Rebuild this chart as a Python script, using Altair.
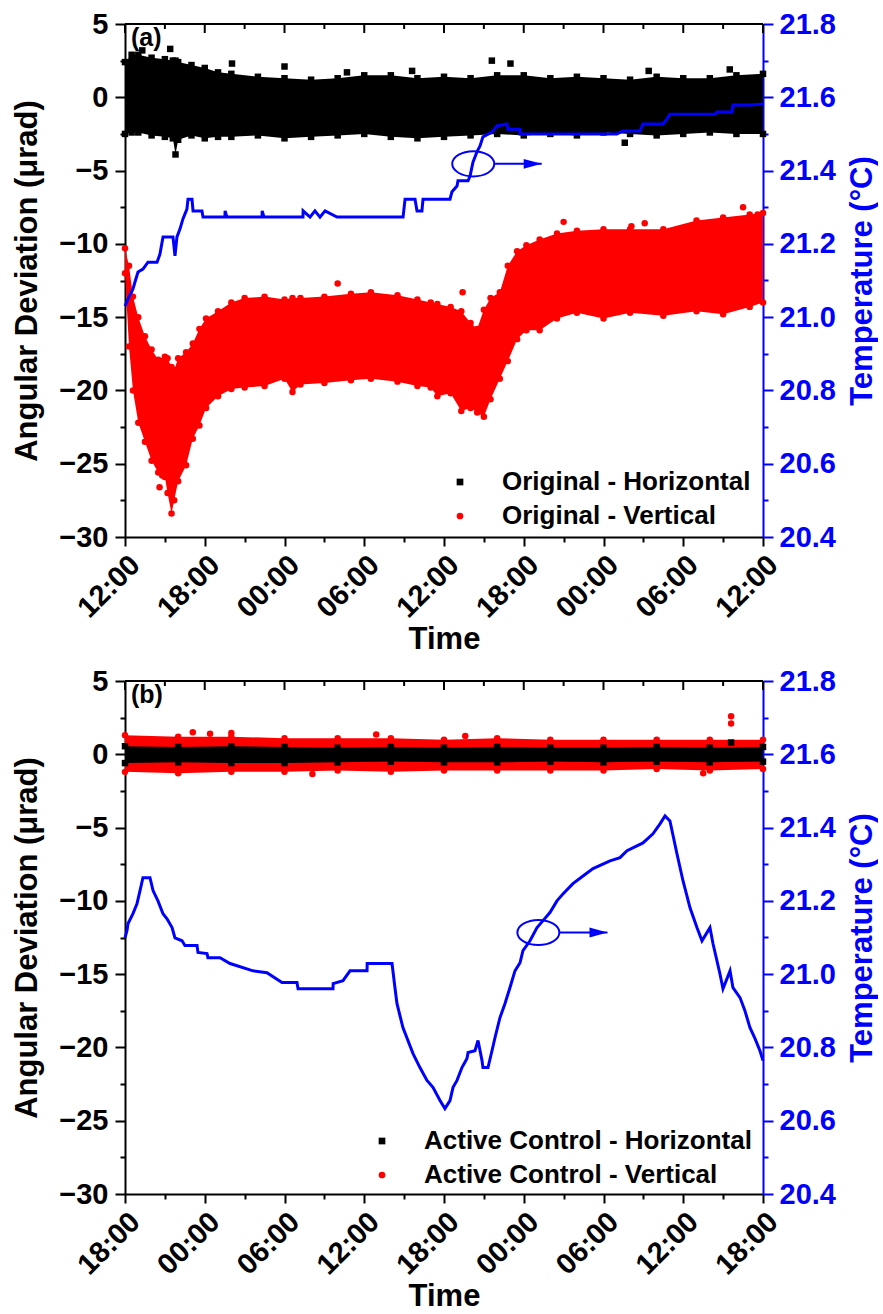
import json
import altair as alt
import pandas as pd

FONT = "Liberation Sans"
BLUE = "#0000ff"
RED = "#ff0000"
BLACK = "#000000"

# ------------------------------------------------------------------ panel (a)
a_time_labels = ["12:00", "18:00", "00:00", "06:00", "12:00", "18:00", "00:00", "06:00", "12:00"]
a_series = ["Original - Horizontal", "Original - Vertical"]

a_black_hours = [0, 0.5, 1, 2, 3, 3.6, 3.8, 4.0, 5, 6, 7, 8, 10, 12, 14, 16, 18, 20, 22, 24,
                 26, 28, 30, 32, 34, 36, 38, 40, 42, 44, 46, 48]
a_black_upper = [2.4, 2.9, 2.9, 2.7, 2.6, 2.5, 2.5, 2.4, 2.2, 2.0, 1.7, 1.6, 1.4, 1.3, 1.2, 1.3,
                 1.5, 1.5, 1.3, 1.4, 1.3, 1.5, 1.5, 1.3, 1.4, 1.3, 1.2, 1.4, 1.3, 1.3, 1.5, 1.6]
a_black_lower = [-2.5, -2.4, -2.4, -2.6, -2.7, -2.8, -3.9, -2.9, -2.6, -2.8, -2.7, -2.7, -2.6, -2.8,
                 -2.7, -2.6, -2.5, -2.7, -2.8, -2.7, -2.6, -2.5, -2.6, -2.5, -2.6, -2.4, -2.5, -2.6,
                 -2.5, -2.4, -2.5, -2.5]

a_red_hours = [0, 0.3, 0.6, 1.0, 1.5, 2.0, 2.5, 2.8, 3.0, 3.2, 3.5, 3.7, 4.0, 4.6, 5.1, 5.6, 6.1,
               7, 8, 9, 10.5, 12, 12.6, 13.2, 15, 17, 18.5, 20.5, 22, 23, 23.5, 24.5, 25.3, 26.0,
               26.5, 27.0, 27.5, 28.2, 28.8, 29.5, 30.2, 31.2, 32.5, 34, 36, 38, 40.5, 43, 45, 47, 48]
a_red_upper = [-10.3, -11.5, -13.6, -15.0, -16.3, -17.2, -17.9, -18.0, -17.7, -17.8, -18.4, -18.6,
               -17.8, -17.4, -16.8, -15.8, -15.1, -14.6, -14.0, -13.7, -13.6, -13.8, -13.7, -13.7,
               -13.6, -13.4, -13.3, -13.5, -13.8, -14.0, -14.1, -14.3, -14.6, -15.4, -15.8, -14.5,
               -13.7, -13.3, -11.5, -10.5, -10.1, -9.7, -9.3, -9.1, -9.0, -9.0, -9.0, -8.4, -8.2,
               -8.0, -7.9]
a_red_lower = [-12.0, -17.0, -20.0, -22.2, -23.5, -24.8, -25.6, -25.8, -25.9, -27.0, -28.4, -27.5,
               -26.2, -25.1, -23.3, -22.4, -21.2, -20.4, -19.9, -19.8, -19.7, -19.2, -20.1, -19.6,
               -19.5, -19.3, -19.2, -19.4, -19.7, -19.8, -20.4, -20.2, -21.4, -21.2, -21.5, -21.8,
               -20.6, -19.2, -18.0, -16.5, -15.9, -15.9, -15.1, -14.7, -15.1, -14.7, -14.9, -14.6,
               -14.8, -14.3, -14.0]

a_black_out_hours = [1.3, 3.4, 8.05, 12.0, 16.7, 21.6, 27.6, 29.0, 37.6, 39.4, 45.5]
a_black_out_vals = [3.2, 3.3, 2.3, 2.1, 1.7, 1.8, 2.5, 2.3, -3.1, 1.8, 1.9]
a_red_out_hours = [2.6, 16.0, 25.4, 33.0, 38.1, 39.1, 46.5, 47.6]
a_red_out_vals = [-26.6, -12.7, -13.3, -8.5, -8.8, -8.6, -7.5, -8.0]

a_temp_hours = [0, 0.23, 0.60, 0.75, 0.98, 1.35, 1.73, 2.41, 2.63, 2.86, 3.61, 3.76, 3.91, 4.14,
                4.36, 4.66, 4.74, 5.04, 5.12, 5.79, 5.87, 7.52, 7.53, 7.67, 10.31, 10.32, 10.46,
                13.39, 13.40, 13.92, 14.29, 14.67, 15.05, 15.95, 20.92, 21.07, 21.82, 21.97, 22.34,
                22.42, 24.45, 24.60, 24.98, 25.05, 25.81, 25.96, 26.18, 26.48, 26.71, 26.93, 27.61,
                27.99, 28.74, 28.81, 29.72, 29.73, 37.01, 37.47, 38.75, 38.97, 40.48, 40.78, 41.00,
                44.39, 44.54, 45.67, 45.74, 47.02, 48.0]
a_temp_vals = [21.030, 21.050, 21.077, 21.096, 21.123, 21.131, 21.150, 21.150, 21.172, 21.219,
               21.219, 21.167, 21.219, 21.241, 21.268, 21.295, 21.322, 21.322, 21.290, 21.290,
               21.273, 21.273, 21.290, 21.273, 21.273, 21.290, 21.273, 21.273, 21.290, 21.273,
               21.290, 21.273, 21.290, 21.273, 21.273, 21.322, 21.322, 21.290, 21.290, 21.322,
               21.322, 21.342, 21.358, 21.372, 21.372, 21.385, 21.423, 21.451, 21.467, 21.492,
               21.505, 21.522, 21.527, 21.513, 21.513, 21.500, 21.500, 21.508, 21.508, 21.527,
               21.527, 21.541, 21.554, 21.554, 21.560, 21.560, 21.579, 21.579, 21.582]

a_panel_label = "(a)"
a_label_pos = [0.45, 4.05]          # hours, µrad
a_ellipse_pos = [26.2, -4.54]       # hours, µrad
a_arrow_hours = [27.8, 31.35]

# ------------------------------------------------------------------ panel (b)
b_time_labels = ["18:00", "00:00", "06:00", "12:00", "18:00", "00:00", "06:00", "12:00", "18:00"]
b_series = ["Active Control - Horizontal", "Active Control - Vertical"]

b_band_hours = [0, 4, 8, 12, 16, 20, 24, 28, 32, 36, 40, 44, 48]
b_black_upper = [0.55, 0.5, 0.55, 0.5, 0.45, 0.5, 0.45, 0.5, 0.45, 0.45, 0.5, 0.45, 0.5]
b_black_lower = [-0.6, -0.55, -0.6, -0.6, -0.55, -0.5, -0.55, -0.55, -0.5, -0.55, -0.5, -0.55, -0.5]
b_red_upper = [1.3, 1.2, 1.2, 1.1, 1.1, 1.1, 1.0, 1.1, 1.0, 1.0, 1.0, 1.0, 1.0]
b_red_lower = [-1.2, -1.3, -1.2, -1.2, -1.1, -1.2, -1.1, -1.1, -1.1, -1.1, -1.0, -1.1, -1.0]

b_black_out_hours = [45.6]
b_black_out_vals = [0.8]
b_red_out_hours = [5.1, 6.4, 8.0, 18.9, 25.6, 45.6, 45.6, 14.1, 43.5]
b_red_out_vals = [1.5, 1.4, 1.45, 1.35, 1.25, 2.6, 2.1, -1.35, -1.3]

b_temp_hours = [0, 0.15, 0.23, 0.60, 0.90, 1.13, 1.35, 1.88, 2.11, 2.48, 2.86, 3.16, 3.54, 3.76,
                4.29, 4.51, 5.42, 5.49, 6.17, 6.24, 7.15, 7.90, 8.43, 9.63, 10.68, 11.81, 12.94,
                13.02, 15.65, 15.66, 16.40, 16.93, 18.21, 18.22, 20.09, 20.31, 20.46, 20.91, 21.67,
                22.19, 22.72, 23.17, 23.70, 24.07, 24.45, 24.68, 24.98, 25.35, 25.73, 25.81, 26.33,
                26.56, 26.86, 26.93, 27.31, 27.61, 27.84, 28.21, 28.59, 28.96, 29.34, 29.72, 29.94,
                30.47, 31.00, 31.45, 31.97, 32.50, 32.95, 33.70, 34.46, 35.21, 36.49, 37.24, 37.77,
                38.97, 39.72, 40.25, 40.63, 41.00, 41.53, 41.98, 42.51, 43.03, 43.41, 44.01, 44.24,
                44.76, 44.99, 45.52, 45.74, 46.27, 46.64, 47.02, 47.40, 47.77, 48.0]
b_temp_vals = [21.099, 21.119, 21.138, 21.165, 21.192, 21.228, 21.263, 21.263, 21.228, 21.200,
               21.165, 21.151, 21.127, 21.099, 21.091, 21.078, 21.078, 21.059, 21.056, 21.045,
               21.045, 21.029, 21.023, 21.009, 21.004, 20.977, 20.977, 20.960, 20.960, 20.974,
               20.982, 21.009, 21.009, 21.029, 21.029, 20.963, 20.920, 20.854, 20.783, 20.745,
               20.710, 20.691, 20.655, 20.633, 20.655, 20.691, 20.710, 20.745, 20.770, 20.786,
               20.791, 20.819, 20.764, 20.745, 20.745, 20.791, 20.827, 20.881, 20.920, 20.963,
               21.009, 21.031, 21.064, 21.091, 21.127, 21.146, 21.168, 21.200, 21.219, 21.247,
               21.268, 21.288, 21.309, 21.318, 21.337, 21.358, 21.383, 21.410, 21.432, 21.418,
               21.328, 21.255, 21.181, 21.127, 21.091, 21.127, 21.083, 21.001, 20.960, 21.009,
               20.963, 20.936, 20.900, 20.854, 20.824, 20.791, 20.764]

b_panel_label = "(b)"
b_label_pos = [0.45, 4.05]
b_ellipse_pos = [31.1, -12.16]
b_arrow_hours = [32.7, 36.3]

# ------------------------------------------------------------------ axes / scales
X_TICKS = list(range(0, 49, 3))
LEFT_TICKS = [-30 + 2.5 * i for i in range(15)]
RIGHT_TICKS = [round(20.4 + 0.1 * i, 1) for i in range(15)]
W, H = 638, 513

ELLIPSE = "M-1,0 A1,0.6 0 1,1 1,0 A1,0.6 0 1,1 -1,0 Z"
ARROW_HEAD = "M-2,-0.55 L0,0 L-2,0.55 Z"


def x_enc(field, labels):
    expr = "datum.value % 6 === 0 ? " + json.dumps(labels) + "[datum.value / 6] : ''"
    return alt.X(
        f"{field}:Q",
        scale=alt.Scale(domain=[0, 48], nice=False, zero=False),
        axis=alt.Axis(
            title="Time", values=X_TICKS, labelExpr=expr, labelAngle=315,
            labelAlign="right", labelBaseline="top", labelPadding=4,
            tickSize={"condition": {"test": "datum.value % 6 === 0", "value": 9}, "value": 5},
            labelOverlap=False, labelFlush=False, titlePadding=2,
        ),
    )


LEFT_AXIS = alt.Axis(
    title="Angular Deviation (μrad)", values=LEFT_TICKS,
    labelExpr="datum.value % 5 === 0 ? format(datum.value, 'd') : ''",
    tickSize={"condition": {"test": "datum.value % 5 === 0", "value": 10}, "value": 5},
    labelOverlap=False, labelFlush=False, labelPadding=7, titlePadding=15,
)

RIGHT_AXIS = alt.Axis(
    title="Temperature (°C)", orient="right", values=RIGHT_TICKS,
    labelExpr="round(datum.value * 10) % 2 === 0 ? format(datum.value, '.1f') : ''",
    tickSize={"condition": {"test": "round(datum.value * 10) % 2 === 0", "value": 10}, "value": 5},
    labelOverlap=False, labelFlush=False, labelPadding=6, titlePadding=12,
    titleAngle=270, titleBaseline="top",
    domainColor=BLUE, tickColor=BLUE, labelColor=BLUE, titleColor=BLUE,
)


def y_left(field):
    return alt.Y(f"{field}:Q", scale=alt.Scale(domain=[-30, 5], nice=False, zero=False), axis=LEFT_AXIS)


def panel(labels, series, black_hours, black_up, black_lo, red_hours, red_up, red_lo,
          black_out_h, black_out_v, red_out_h, red_out_v, temp_h, temp_v,
          plabel, plabel_pos, ell_pos, arrow_h, red_first, legend_xy):
    df_black = pd.DataFrame({"h": black_hours, "hi": black_up, "lo": black_lo})
    df_red = pd.DataFrame({"h": red_hours, "hi": red_up, "lo": red_lo})

    pts = []
    for hh, u, l in zip(red_hours, red_up, red_lo):
        pts.append({"h": hh, "v": u, "s": series[1]})
        pts.append({"h": hh, "v": l, "s": series[1]})
    for hh, v in zip(red_out_h, red_out_v):
        pts.append({"h": hh, "v": v, "s": series[1]})
    for hh, u, l in zip(black_hours, black_up, black_lo):
        pts.append({"h": hh, "v": u, "s": series[0]})
        pts.append({"h": hh, "v": l, "s": series[0]})
    for hh, v in zip(black_out_h, black_out_v):
        pts.append({"h": hh, "v": v, "s": series[0]})
    df_pts = pd.DataFrame(pts)

    black_area = alt.Chart(df_black).mark_area(color=BLACK, opacity=1).encode(
        x=x_enc("h", labels), y=y_left("hi"), y2=alt.Y2("lo:Q"))
    red_area = alt.Chart(df_red).mark_area(color=RED, opacity=1).encode(
        x=x_enc("h", labels), y=y_left("hi"), y2=alt.Y2("lo:Q"))

    legend = alt.Legend(title=None, orient="none", legendX=legend_xy[0], legendY=legend_xy[1],
                        direction="vertical", labelLimit=0)
    points = alt.Chart(df_pts).mark_point(filled=True, opacity=1, size=42).encode(
        x=x_enc("h", labels), y=y_left("v"),
        color=alt.Color("s:N", scale=alt.Scale(domain=series, range=[BLACK, RED]), legend=legend),
        shape=alt.Shape("s:N", scale=alt.Scale(domain=series, range=["square", "circle"]), legend=legend),
    )

    df_lab = pd.DataFrame({"h": [plabel_pos[0]], "v": [plabel_pos[1]], "t": [plabel]})
    label = alt.Chart(df_lab).mark_text(align="left", baseline="middle", font=FONT, fontSize=25,
                                        fontWeight="bold", color=BLACK).encode(
        x=x_enc("h", labels), y=y_left("v"), text="t:N")

    df_ell = pd.DataFrame({"h": [ell_pos[0]], "v": [ell_pos[1]]})
    ellipse = alt.Chart(df_ell).mark_point(shape=ELLIPSE, size=1764, filled=False, color=BLUE,
                                           strokeWidth=2, opacity=1).encode(
        x=x_enc("h", labels), y=y_left("v"))
    df_arr = pd.DataFrame({"h0": [arrow_h[0]], "h1": [arrow_h[1]], "v": [ell_pos[1]]})
    arrow = alt.Chart(df_arr).mark_rule(color=BLUE, strokeWidth=2).encode(
        x=x_enc("h0", labels), x2=alt.X2("h1:Q"), y=y_left("v"))
    head = alt.Chart(df_arr).mark_point(shape=ARROW_HEAD, size=324, filled=True, color=BLUE,
                                        opacity=1).encode(
        x=x_enc("h1", labels), y=y_left("v"))

    top_frame = alt.Chart(df_lab).mark_rule(color=BLACK, strokeWidth=2).encode(
        x=alt.value(0), x2=alt.value(W), y=alt.value(0))
    df_major = pd.DataFrame({"h": [t for t in X_TICKS if t % 6 == 0]})
    df_minor = pd.DataFrame({"h": [t for t in X_TICKS if t % 6 != 0]})
    top_major = alt.Chart(df_major).mark_rule(color=BLACK, strokeWidth=2).encode(
        x=x_enc("h", labels), y=alt.value(0), y2=alt.value(9))
    top_minor = alt.Chart(df_minor).mark_rule(color=BLACK, strokeWidth=2).encode(
        x=x_enc("h", labels), y=alt.value(0), y2=alt.value(5))

    areas = [red_area, black_area] if red_first else [black_area, red_area]
    left = alt.layer(*areas, points, label, ellipse, arrow, head, top_frame, top_major, top_minor)

    df_temp = pd.DataFrame({"h": temp_h, "T": temp_v})
    temp = alt.Chart(df_temp).mark_line(color=BLUE, strokeWidth=3).encode(
        x=x_enc("h", labels),
        y=alt.Y("T:Q", scale=alt.Scale(domain=[20.4, 21.8], nice=False, zero=False), axis=RIGHT_AXIS),
    )
    return alt.layer(left, temp).resolve_scale(y="independent").properties(width=W, height=H)


pa = panel(a_time_labels, a_series, a_black_hours, a_black_upper, a_black_lower,
           a_red_hours, a_red_upper, a_red_lower, a_black_out_hours, a_black_out_vals,
           a_red_out_hours, a_red_out_vals, a_temp_hours, a_temp_vals,
           a_panel_label, a_label_pos, a_ellipse_pos, a_arrow_hours, False, [322, 445])
pb = panel(b_time_labels, b_series, b_band_hours, b_black_upper, b_black_lower,
           b_band_hours, b_red_upper, b_red_lower, b_black_out_hours, b_black_out_vals,
           b_red_out_hours, b_red_out_vals, b_temp_hours, b_temp_vals,
           b_panel_label, b_label_pos, b_ellipse_pos, b_arrow_hours, True, [244, 447])

chart = (
    alt.vconcat(pa, pb, spacing=12)
    .resolve_scale(color="independent", shape="independent")
    .resolve_legend(color="independent", shape="independent")
    .properties(padding={"left": 11, "top": 10, "right": 0, "bottom": 0})
    .configure_axis(labelFont=FONT, titleFont=FONT, labelFontSize=29, titleFontSize=31,
                    labelFontWeight="bold", titleFontWeight="bold", domainWidth=2, tickWidth=2,
                    domainColor=BLACK, tickColor=BLACK, labelColor=BLACK, titleColor=BLACK,
                    grid=False)
    .configure_legend(labelFont=FONT, labelFontSize=26, labelFontWeight="bold", labelColor=BLACK,
                      symbolSize=45, symbolStrokeWidth=0, padding=0, rowPadding=8, labelOffset=29,
                      labelLimit=0)
    .configure_view(stroke=None)
)

chart.save("out.html", embed_options={"renderer": "svg", "actions": False})
